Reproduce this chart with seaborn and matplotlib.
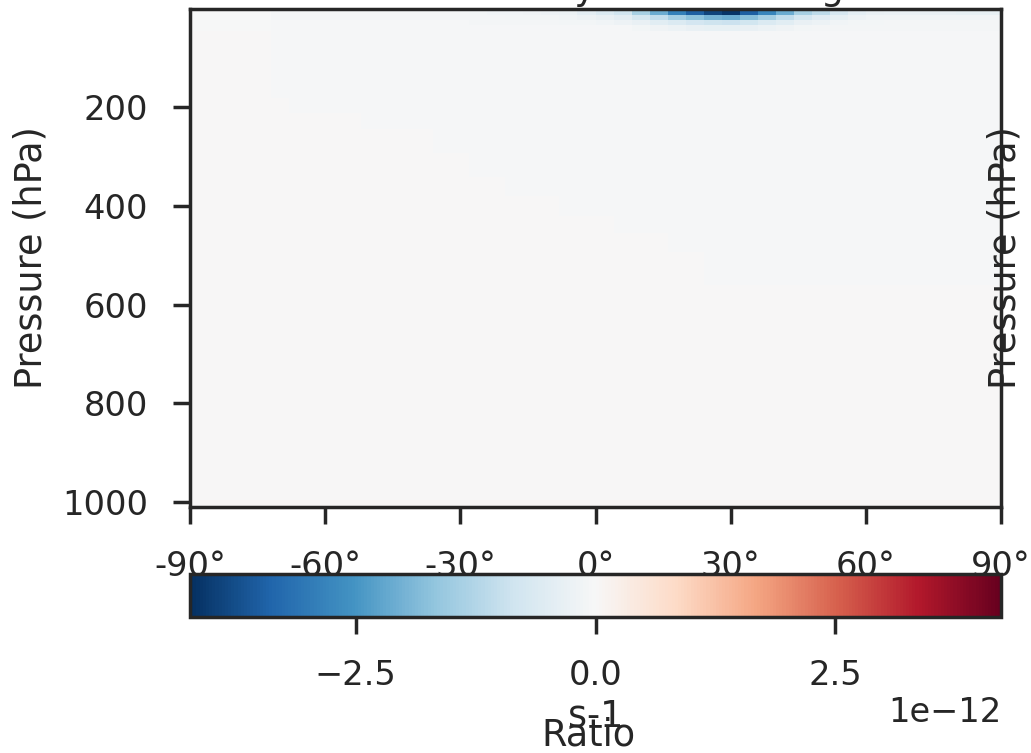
import numpy as np
import matplotlib
matplotlib.use("Agg")
import matplotlib.pyplot as plt
import seaborn as sns

sns.set_theme(style="ticks", context="poster", font_scale=1.1)
plt.rcParams["xtick.major.pad"] = 18.4
plt.rcParams["ytick.major.pad"] = 18.4

# latitude centres (4 degree grid) and pressure cell edges (hPa)
lat = np.arange(-90, 91, 4)
p_edges = [0, 14, 24, 34, 46, 62, 80, 100, 125, 150, 181, 211, 244, 292,
           341, 380, 420, 455, 493, 560, 650, 750, 850, 950, 1013]

lat_ticks = [-90, -60, -30, 0, 30, 60, 90]
lat_tick_labels = ["-90°", "-60°", "-30°", "0°", "30°", "60°", "90°"]
p_ticks = [200, 400, 600, 800, 1000]
cbar_ticks = [-2.5e-12, 0.0, 2.5e-12]

# values in 1e-12 s-1, top four pressure rows, lat -90 ... 90
row0 = [-0.01] * 5 + [-0.08] * 11 + [
    -0.12, -0.14, -0.16, -0.18, -0.20, -0.24, -0.40, -0.60, -0.85, -1.40,
    -2.10, -2.90, -3.50, -3.90, -4.15, -3.50, -2.80, -2.10, -1.40, -1.10,
    -0.70, -0.40, -0.30, -0.28, -0.28, -0.30, -0.32, -0.34, -0.35, -0.35]
row1 = [-0.01] * 5 + [-0.07] * 11 + [
    -0.08, -0.09, -0.10, -0.11, -0.12, -0.15, -0.22, -0.30, -0.45, -0.75,
    -1.05, -1.45, -1.75, -2.00, -2.10, -1.80, -1.45, -1.05, -0.75, -0.52,
    -0.35, -0.22, -0.16, -0.15, -0.15, -0.15, -0.15, -0.15, -0.15, -0.15]
row2 = [-0.01] * 5 + [-0.06] * 11 + [
    -0.07, -0.07, -0.08, -0.08, -0.09, -0.10, -0.12, -0.16, -0.22, -0.32,
    -0.48, -0.62, -0.78, -0.88, -0.92, -0.82, -0.62, -0.48, -0.32, -0.24,
    -0.16, -0.12, -0.10, -0.09, -0.09, -0.09, -0.09, -0.09, -0.09, -0.09]
row3 = [-0.01] * 5 + [-0.06] * 20 + [
    -0.12, -0.18, -0.25, -0.30, -0.35, -0.35, -0.30, -0.25, -0.18,
    -0.12] + [-0.07] * 11

# remaining rows: near-zero background, slightly lower where lat > limit
bg_limit = [-72, -72, -72, -72, -72, -72, -68, -52, -36, -28, -20, -8,
            4, 16, 24, None, None, None, None, None]
bg_upper = -0.06
bg_lower = 0.0

rows = [row0, row1, row2, row3]
for lim in bg_limit:
    rows.append([bg_upper if (lim is not None and la > lim) else bg_lower
                 for la in lat])
field = np.array(rows) * 1e-12
lat_edges = np.append(lat - 2, lat[-1] + 2)

W, H = 1031, 753
fig = plt.figure(figsize=(W / 100, H / 100), dpi=100)
ax = fig.add_axes([190 / W, 1 - 507.3 / H, 811 / W, 498.8 / H])
mesh = ax.pcolormesh(lat_edges, p_edges, field, cmap="RdBu_r",
                     vmin=-4.23e-12, vmax=4.23e-12)
ax.set_xlim(-90, 90)
ax.set_ylim(1011, 0)
ax.set_xticks(lat_ticks)
ax.set_xticklabels(lat_tick_labels)
ax.set_yticks(p_ticks)
ax.set_ylabel("Pressure (hPa)", labelpad=9)
ax.text(1.005, 0.5, "Pressure (hPa)", transform=ax.transAxes, rotation=90,
        ha="center", va="center", fontsize=plt.rcParams["axes.labelsize"])
ax.set_title("Total tendency from heating", pad=7, x=0.488)
for s in ax.spines.values():
    s.set_visible(True)

cax = fig.add_axes([190 / W, 1 - 617 / H, 811 / W, 43 / H])
cbar = fig.colorbar(mesh, cax=cax, orientation="horizontal")
cbar.set_ticks(cbar_ticks)
cbar.set_label("s-1")
fig.text(588 / W, 1 - 745 / H, "Ratio", ha="center", va="baseline",
         fontsize=plt.rcParams["axes.labelsize"])

fig.savefig("out.png", dpi=100)
